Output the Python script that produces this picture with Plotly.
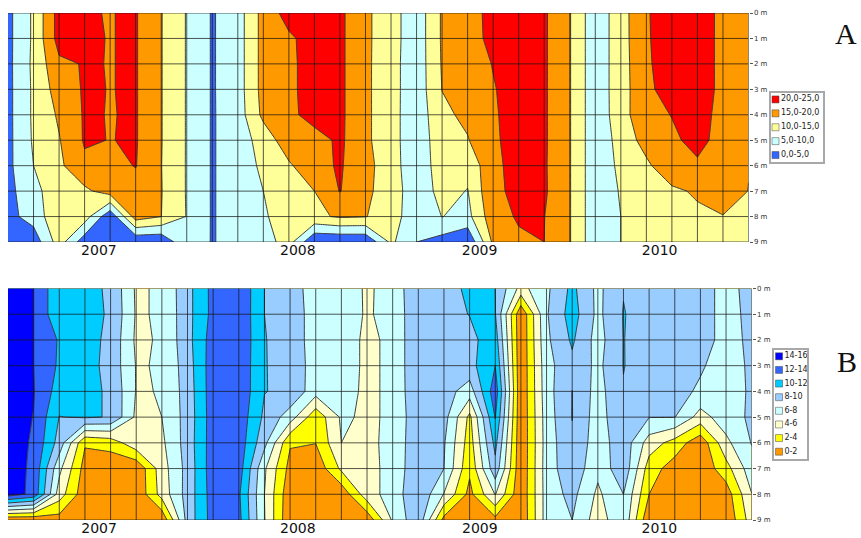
import plotly.graph_objects as go

W, H = 861, 538
columns = list(range(30))
depths = list(range(10))
depth_labels = ["0 m", "1 m", "2 m", "3 m", "4 m", "5 m", "6 m", "7 m", "8 m", "9 m"]
year_labels = ["2007", "2008", "2009", "2010"]
year_pos_a = [3.56, 11.35, 18.47, 25.52]
year_pos_b = [3.55, 11.3, 18.4, 25.4]

temperature = [
    [3.7,10.8,22,20.2,19.9,20.4,15.2,9.7,4.6,7.7,16.8,22,22,21,16,12,6.9,15.6,18,21.5,22,20.7,15.3,6.6,12.9,19.5,23,21,19.5,17],
    [3.7,10.8,22,20.4,19.9,20.4,15.2,9.7,4.6,7.7,16.8,19.2,22,21,16,12,6.9,15.6,18,21.3,22,20.7,15.3,6.6,12.9,19.4,23,21,19.5,17],
    [3.7,11,19,20.3,19.9,20.4,15.2,9.7,4.6,7.7,16.8,19,22,21,16,11.8,6.9,15.4,17.5,20.2,22,20.7,15.3,6.6,12.9,19,23.5,21,19.5,17],
    [3.7,10.8,17.3,20.5,19.9,20.4,15.2,9.7,4.6,7.7,16.8,19,22,21,16,11.8,6.9,15.1,17,19.7,22,20.7,15.3,6.6,12.9,18.7,22.6,21,19.5,17],
    [3.7,10.8,15.7,20.5,19.85,20.4,15.2,9.7,4.6,7.5,16.2,18.8,21.9,21,16,11.8,6.8,13.9,16.1,19.5,21.8,20.7,15.3,6.6,12.8,18.9,20.1,21,19.2,17],
    [3.7,10.6,14.7,20.5,19.9,20.4,15.2,9.7,4.6,7.5,12,18,18,20.9,16,11.8,6.8,13,14.7,19.3,21.8,20.7,15.3,6.6,11.75,17,19.4,21,18.8,17],
    [3.8,10,14,19,18.5,20.2,15.1,9.7,4.6,7.5,10.9,14.3,18.5,20.5,16.7,12,6.8,12.5,11.5,18.7,22,20.6,15.3,6.6,11.1,14,18.8,19.5,18.5,15.2],
    [3.5,8.5,13,14,17.2,18,15.2,9.7,4.6,7.5,10,12.5,15,20.2,16,12.7,6.8,11.7,9.8,19.3,20.8,20.7,15.3,6.6,10.4,12.5,14,15.7,18,14.9],
    [3.5,7,14,12.4,1.2,17.3,15.05,9.8,4.6,7.5,9,14,14,15.6,15.2,12.5,6.5,10.1,8.5,18.1,20.5,20.1,15.3,6.6,10,11.5,12.5,14,14.8,14.5],
    [1.5,2,12.4,2,1,0.5,0.5,9.5,4.6,7.5,8,12,0.2,0.3,0.5,11,5,3,0.5,16,19.2,20,15.3,6.6,10,11.5,12,12,12,12],
]

oxygen = [
    [15,14,10.4,10.6,9.7,5.7,6.3,9.34,12.62,13.73,10,9,7,7,5.77,6.6,9.8,9.4,10.3,10,5.3,7.6,10.5,7.5,9.9,9,9,9,7.2,8.8],
    [15,14,10.4,10.6,9.8,5.8,6.2,9.34,12.6,13.7,10,9,7.2,7,5.8,6.6,9.6,9.4,10.05,10.1,0.3,7.8,10.9,7.5,10.1,9,9,9,7.2,8.6],
    [15,14,11.8,10.8,9.5,5.65,6.2,9.3,13,13.7,10.1,9,7.2,7,5.6,6.4,9.8,9.4,9.5,11,0.3,7.6,10.3,7.2,10.05,9,9,9,7.2,8.45],
    [15,14,11.7,10.8,9.35,5.9,6.1,9.06,13.15,13.6,10.1,9.2,7.2,7,5.6,6.4,9.8,9.3,9.3,12,0.3,7.3,9.5,7.5,10.05,9.2,9.2,8.3,6.8,8.45],
    [15,14.1,11.1,10.6,9.7,5.9,6.05,8.9,13.15,13.6,10.05,9.65,6.8,7,5.5,6.5,9.6,8.9,7,13.2,0.3,7.2,10.02,7.2,9.9,9.3,8.9,7.6,7,8.3],
    [15,13.95,9.95,10.2,9.9,5.6,6,8.8,13.1,13.3,9.6,7,2.6,6.3,5.7,6.3,9.5,8.8,3.5,12.1,0.3,7,10.05,7,9.8,8.05,8.05,5.2,7.06,8.35],
    [15,13.75,9.2,2.2,2.8,5.4,5.6,8.9,13.1,13.2,8.6,2.2,2.05,6,5.5,6.6,9.4,8.2,3,10.6,0.3,6.9,9.7,6.9,9.3,5.05,3.2,0.6,5.5,8.1],
    [15,13.6,6.5,1.2,0.5,0.3,5.1,8.7,13.2,13,6.3,1.3,0.5,4.4,5.1,6.9,9.2,8,2.4,9.35,0.3,7,9.4,6.5,9.5,3,1,0.5,3.2,7.2],
    [15,13.5,5,0.7,0.3,0.3,4.8,8.8,13,12.3,6,0.5,0.4,0.5,5.2,6.8,9.8,5.9,1.4,6.1,0.4,6.9,8.6,5.6,8,2,0.5,0.4,0.9,5.95],
    [0.3,0.3,1.1,0.5,0.3,0.3,0.3,8.8,12.9,12.6,6.1,0.3,0.3,0.3,0.5,6.3,9.5,1.3,0.8,1.4,0.3,6.9,8,5,7.56,0.3,0.3,0.3,0.3,5],
]

bands_a = ["0,0-5,0", "5,0-10,0", "10,0-15,0", "15,0-20,0", "20,0-25,0"]
colors_a = ["#3366FF", "#CCFFFF", "#FFFF99", "#FF9900", "#FF0000"]
bands_b = ["0-2", "2-4", "4-6", "6-8", "8-10", "10-12", "12-14", "14-16"]
colors_b = ["#FF9900", "#FFFF00", "#FFFFCC", "#CCFFFF", "#99CCFF", "#00CCFF", "#3366FF", "#0000FF"]

LINE = "#3c3c3c"
GRID = "rgba(20,20,20,0.72)"
LABEL_FONT = "DejaVu Sans"


def px_x(a, b):
    return [a / W, b / W]


def px_y(top, bottom):
    return [1 - bottom / H, 1 - top / H]


def step_scale(colors):
    n = len(colors)
    out = []
    for k, c in enumerate(colors):
        out += [[k / n, c], [(k + 1) / n, c]]
    return out


fig = go.Figure()


def add_contour(z, colors, step, xa, ya):
    top = step * len(colors)
    fig.add_trace(go.Contour(
        x=columns, y=depths, z=z, xaxis=xa, yaxis=ya,
        autocontour=False, zmin=0, zmax=top, zauto=False,
        contours=dict(start=0, end=top, size=step, coloring="fill", showlines=True),
        line=dict(color=LINE, width=1, smoothing=0),
        colorscale=step_scale(colors), showscale=False, hoverinfo="skip",
    ))


def add_legend(labels, colors, xa, ya):
    # top band is listed first, as in the reference
    fig.add_trace(go.Scatter(
        x=[0] * len(labels), y=list(range(len(labels))),
        text=list(reversed(labels)), mode="markers+text", textposition="middle right",
        textfont=dict(family=LABEL_FONT, size=8, color="#222222"),
        marker=dict(symbol="square", size=7, color=list(reversed(colors)),
                    line=dict(color="#444444", width=0.5)),
        xaxis=xa, yaxis=ya, showlegend=False, hoverinfo="skip", cliponaxis=False,
    ))


add_contour(temperature, colors_a, 5, "x", "y")
add_contour(oxygen, colors_b, 2, "x2", "y2")
add_legend(bands_a, colors_a, "x3", "y3")
add_legend(bands_b, colors_b, "x4", "y4")

for xr, yr in (("x", "y"), ("x2", "y2")):
    for c in columns[1:]:
        fig.add_shape(type="line", xref=xr, yref=yr, x0=c, x1=c, y0=depths[0], y1=depths[-1],
                      line=dict(color=GRID, width=1))
    for d in depths:
        fig.add_shape(type="line", xref=xr, yref=yr, x0=columns[0], x1=columns[-1], y0=d, y1=d,
                      line=dict(color=GRID, width=1))


def x_axis(domain, anchor, ticks):
    return dict(domain=domain, anchor=anchor, range=[columns[0], columns[-1]], showgrid=False,
                zeroline=False, tickmode="array", tickvals=ticks, ticktext=year_labels,
                automargin=False, ticks="", ticklabelstandoff=-2,
                tickfont=dict(family=LABEL_FONT, size=14, color="#111111"))


def y_axis(domain, anchor):
    return dict(domain=domain, anchor=anchor, side="right", range=[depths[-1], depths[0]],
                automargin=False, showgrid=False, zeroline=False, tickmode="array", tickvals=depths,
                ticktext=depth_labels, ticks="outside", ticklen=3, tickcolor="#555555",
                tickfont=dict(family=LABEL_FONT, size=7, color="#333333"))


def legend_axes(xd, yd, n, low):
    xa = dict(domain=xd, range=[low, 1], visible=True, showticklabels=False, ticks="",
              showgrid=False, zeroline=False, showline=True, mirror=True,
              linecolor="#A8A8A8", linewidth=1.5)
    ya = dict(domain=yd, range=[n - 0.5, -0.5], visible=True, showticklabels=False, ticks="",
              showgrid=False, zeroline=False, showline=True, mirror=True,
              linecolor="#A8A8A8", linewidth=1.5)
    return xa, ya


xa3, ya3 = legend_axes(px_x(771, 823), px_y(92.5, 162), len(bands_a), -0.095)
xa4, ya4 = legend_axes(px_x(774, 807), px_y(349.5, 458.5), len(bands_b), -0.18)
xa3["anchor"], ya3["anchor"] = "y3", "x3"
xa4["anchor"], ya4["anchor"] = "y4", "x4"

fig.update_layout(
    width=W, height=H, autosize=False,
    margin=dict(l=0, r=0, t=0, b=0, pad=0, autoexpand=False),
    paper_bgcolor="white", plot_bgcolor="white", showlegend=False,
    xaxis=x_axis(px_x(8, 748.5), "y", year_pos_a),
    yaxis=y_axis(px_y(13, 242), "x"),
    xaxis2=x_axis(px_x(8, 751.7), "y2", year_pos_b),
    yaxis2=y_axis(px_y(288.5, 520), "x2"),
    xaxis3=xa3, yaxis3=ya3, xaxis4=xa4, yaxis4=ya4,
    annotations=[
        dict(text="A", xref="paper", yref="paper", x=846 / W, y=1 - 33 / H, showarrow=False,
             xanchor="center", yanchor="middle",
             font=dict(family="Liberation Serif", size=30, color="#111111")),
        dict(text="B", xref="paper", yref="paper", x=847 / W, y=1 - 361 / H, showarrow=False,
             xanchor="center", yanchor="middle",
             font=dict(family="Liberation Serif", size=30, color="#111111")),
    ],
)

fig.write_html(
    "out.html",
    config={"displayModeBar": False},
    post_script="document.body.style.margin='0';document.documentElement.style.overflow='hidden';",
)
